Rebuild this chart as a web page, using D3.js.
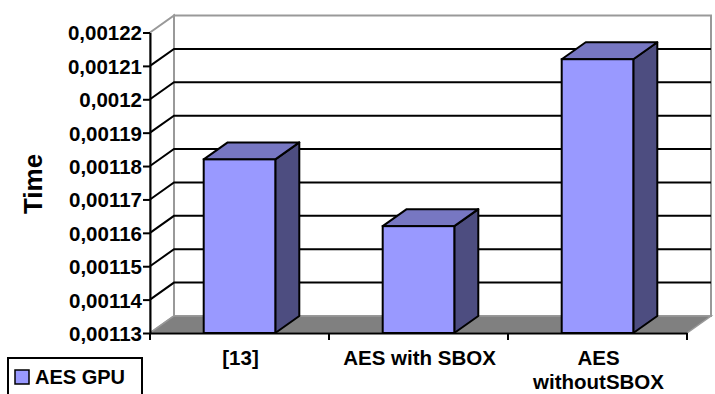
<!DOCTYPE html>
<html>
<head>
<meta charset="utf-8">
<script src="https://cdn.jsdelivr.net/npm/d3@7"></script>
<style>
  html, body { margin: 0; padding: 0; background: #fff; }
  svg { display: block; font-family: "Liberation Sans", Arial, sans-serif; }
</style>
</head>
<body>
<svg id="chart" width="715" height="394"></svg>
<script>
// Series data
const categories = ["[13]", "AES with SBOX", "AES withoutSBOX"];
const categoryLines = [["[13]"], ["AES with SBOX"], ["AES", "withoutSBOX"]];
const seriesName = "AES GPU";
const values = [0.001182, 0.001162, 0.001212];
const tickValues = [0.00113, 0.00114, 0.00115, 0.00116, 0.00117, 0.00118, 0.00119, 0.0012, 0.00121, 0.00122];

const svg = d3.select("#chart");

// Front plane of the 3D box and the oblique depth offset
const plot = { left: 150, right: 687, bottom: 333, top: 32.5 };
const depth = { dx: 24, dy: -17 };

const y = d3.scaleLinear().domain([0.00113, 0.00122]).range([plot.bottom, plot.top]);
const x = d3.scaleBand().domain(categories).range([plot.left, plot.right]).padding(0);
const barW = x.bandwidth() * 0.4;

const fmt = v => v.toFixed(5).replace(/0+$/, "").replace(".", ",");
const y0 = y.domain()[0], y1 = y.domain()[1];

const pts = a => a.map(p => p.join(",")).join(" ");

// Back wall
const backL = plot.left + depth.dx, backR = plot.right + depth.dx;
svg.append("polygon")
  .attr("points", pts([[backL, y(y1) + depth.dy], [backR, y(y1) + depth.dy], [backR, y(y0) + depth.dy], [backL, y(y0) + depth.dy]]))
  .attr("fill", "#fff").attr("stroke", "#999").attr("stroke-width", 2);

// Side wall
svg.append("polygon")
  .attr("points", pts([[plot.left, y(y1)], [backL, y(y1) + depth.dy], [backL, y(y0) + depth.dy], [plot.left, y(y0)]]))
  .attr("fill", "#fff").attr("stroke", "#999").attr("stroke-width", 2);

// Gridlines on side and back walls
const inner = tickValues.filter(t => t > y0 && t < y1);
svg.append("g").selectAll("polyline").data(inner).join("polyline")
  .attr("points", t => pts([[plot.left, y(t)], [backL, y(t) + depth.dy], [backR, y(t) + depth.dy]]))
  .attr("fill", "none").attr("stroke", "#000").attr("stroke-width", 2);

// Floor
svg.append("polygon")
  .attr("points", pts([[plot.left, y(y0)], [plot.right, y(y0)], [backR, y(y0) + depth.dy], [backL, y(y0) + depth.dy]]))
  .attr("fill", "#808080").attr("stroke", "#999").attr("stroke-width", 1.5);

// Bars
const bars = svg.append("g").selectAll("g").data(categories).join("g");
bars.each(function(c, i) {
  const g = d3.select(this);
  const xl = x(c) + (x.bandwidth() - barW) / 2, xr = xl + barW;
  const yt = y(values[i]), yb = y(y0);
  g.append("polygon")
    .attr("points", pts([[xr, yt], [xr + depth.dx, yt + depth.dy], [xr + depth.dx, yb + depth.dy], [xr, yb]]))
    .attr("fill", "#4d4d80").attr("stroke", "#000").attr("stroke-width", 2).attr("stroke-linejoin", "round");
  g.append("polygon")
    .attr("points", pts([[xl, yt], [xl + depth.dx, yt + depth.dy], [xr + depth.dx, yt + depth.dy], [xr, yt]]))
    .attr("fill", "#7777c2").attr("stroke", "#000").attr("stroke-width", 2).attr("stroke-linejoin", "round");
  g.append("rect")
    .attr("x", xl).attr("y", yt).attr("width", barW).attr("height", yb - yt)
    .attr("fill", "#9999ff").attr("stroke", "#000").attr("stroke-width", 2);
});

// Value axis on the front-left edge
const yAxis = svg.append("g")
  .attr("transform", `translate(${plot.left},0)`)
  .call(d3.axisLeft(y).tickValues(tickValues).tickFormat(fmt).tickSize(7).tickSizeOuter(0));
yAxis.select(".domain").attr("stroke", "#000").attr("stroke-width", 2);
yAxis.selectAll(".tick line").attr("stroke", "#000").attr("stroke-width", 2);
yAxis.selectAll(".tick text")
  .attr("x", -8).attr("dy", "0.36em")
  .attr("font-size", 20.5).attr("font-weight", "bold").attr("fill", "#000")
  .attr("font-family", "Liberation Sans, Arial, sans-serif");

// Category axis along the front edge of the floor
const xAxis = svg.append("g")
  .attr("transform", `translate(0,${plot.bottom})`)
  .call(d3.axisBottom(x).tickValues([]).tickSizeOuter(0));
xAxis.select(".domain").attr("stroke", "#000").attr("stroke-width", 2);
const edges = [plot.left].concat(categories.map(c => x(c) + x.step()));
xAxis.selectAll("line.sep").data(edges).join("line").attr("class", "sep")
  .attr("x1", d => d).attr("x2", d => d).attr("y1", 0).attr("y2", 7)
  .attr("stroke", "#000").attr("stroke-width", 2);

const labels = svg.append("g").selectAll("text").data(categories).join("text")
  .attr("x", c => x(c) + x.bandwidth() / 2)
  .attr("y", 365)
  .attr("text-anchor", "middle")
  .attr("font-size", 20.5).attr("font-weight", "bold");
labels.each(function(c, i) {
  d3.select(this).selectAll("tspan").data(categoryLines[i]).join("tspan")
    .attr("x", x(c) + x.bandwidth() / 2 + 1)
    .attr("dy", (d, j) => j === 0 ? 0 : 24)
    .text(d => d);
});

// Axis title
svg.append("text")
  .attr("transform", "translate(42,184) rotate(-90)")
  .attr("text-anchor", "middle")
  .attr("font-size", 26).attr("font-weight", "bold")
  .text("Time");

// Legend
const legend = svg.append("g").attr("transform", "translate(8,358)");
legend.append("rect").attr("x", 0).attr("y", 0).attr("width", 134).attr("height", 40)
  .attr("fill", "#fff").attr("stroke", "#000").attr("stroke-width", 2);
legend.append("rect").attr("x", 7).attr("y", 12).attr("width", 14).attr("height", 14)
  .attr("fill", "#9999ff").attr("stroke", "#000").attr("stroke-width", 1.5);
legend.append("text").attr("x", 27).attr("y", 26)
  .attr("font-size", 20).attr("font-weight", "bold").text(seriesName);
</script>
</body>
</html>
